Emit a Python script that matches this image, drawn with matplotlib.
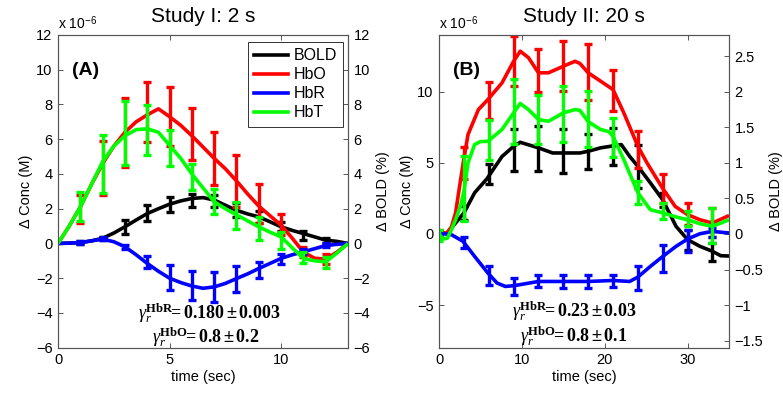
import matplotlib
matplotlib.use("Agg")
import matplotlib.pyplot as plt
from matplotlib.lines import Line2D
from matplotlib.ticker import FixedLocator, FuncFormatter

plt.rcParams["font.family"] = ["Liberation Sans", "DejaVu Sans"]
plt.rcParams["mathtext.fontset"] = "custom"
plt.rcParams["mathtext.rm"] = "Liberation Sans"
plt.rcParams["mathtext.it"] = "Liberation Serif:italic"
plt.rcParams["mathtext.bf"] = "Liberation Serif:bold"

# ---------------- Study I: 2 s (concentration in 1e-6 M, BOLD in %) ----------------
t1_curve = [0, 0.5, 1, 1.5, 2, 2.5, 3, 3.5, 4, 4.5, 5, 5.5, 6, 6.5, 7, 7.5, 8, 8.5,
            9, 9.5, 10, 10.5, 11, 11.5, 12, 12.5, 13]
hbo1_curve = [0, 1.0, 2.1, 3.4, 4.6, 5.6, 6.4, 7.0, 7.4, 7.75, 7.3, 6.8, 6.2, 5.55, 4.9, 4.3,
              3.6, 2.85, 2.15, 1.6, 1.05, 0.3, -0.5, -0.85, -0.9, -0.5, 0]
hbt1_curve = [0, 1.0, 2.1, 3.4, 4.7, 5.6, 6.2, 6.55, 6.6, 6.4, 5.65, 4.9, 4.0, 3.2, 2.4, 2.0,
              1.65, 1.3, 0.96, 0.65, 0.38, -0.25, -0.86, -1.0, -1.06, -0.55, 0]
bold1_curve = [0, 0.02, 0.05, 0.15, 0.3, 0.6, 0.96, 1.35, 1.72, 2.0, 2.26, 2.45, 2.59, 2.64,
               2.5, 2.2, 1.91, 1.7, 1.53, 1.25, 0.96, 0.75, 0.57, 0.38, 0.19, 0.12, 0]
hbr1_curve = [0, 0.02, 0.05, 0.15, 0.25, 0.1, -0.19, -0.65, -1.15, -1.6, -2.0, -2.25, -2.45,
              -2.58, -2.5, -2.3, -2.02, -1.75, -1.44, -1.15, -0.86, -0.65, -0.48, -0.3,
              -0.12, -0.05, 0]

t1_err = [1, 2, 3, 4, 5, 6, 7, 8, 9, 10, 11, 12]
hbo1_mean = [2.0, 4.35, 6.4, 7.56, 7.3, 6.3, 4.88, 3.6, 2.3, 1.1, -0.5, -0.9]
hbo1_sd = [0.8, 1.55, 2.0, 1.72, 1.7, 1.5, 1.53, 1.5, 1.1, 0.62, 0.3, 0.3]
hbt1_mean = [2.13, 4.57, 6.35, 6.53, 5.48, 3.83, 2.44, 1.62, 0.86, 0.19, -0.81, -1.1]
hbt1_sd = [0.83, 1.65, 1.85, 1.46, 1.03, 0.77, 0.72, 0.77, 0.67, 0.48, 0.33, 0.33]
bold1_mean = [0.05, 0.3, 0.97, 1.75, 2.25, 2.48, 2.45, 1.95, 1.5, 0.96, 0.47, 0.17]
bold1_sd = [0.08, 0.1, 0.4, 0.45, 0.43, 0.38, 0.35, 0.4, 0.35, 0.25, 0.25, 0.15]
hbr1_mean = [0.05, 0.28, -0.19, -1.08, -1.97, -2.42, -2.5, -2.04, -1.53, -0.9, -0.48, -0.1]
hbr1_sd = [0.08, 0.1, 0.1, 0.36, 0.72, 0.85, 0.87, 0.74, 0.48, 0.29, 0.15, 0.1]

# ---------------- Study II: 20 s ----------------
t2_hbo = [0, 1, 1.5, 2, 2.6, 3, 3.5, 4.75, 5.9, 7.6, 9, 9.8, 10.8, 12, 13.2, 15, 16.4, 17,
          18, 19.5, 21, 22.3, 24, 25.1, 27, 28.5, 30, 31.5, 33, 35]
hbo2_curve = [0, 0.1, 0.5, 1.5, 3.8, 5.3, 7.0, 8.75, 9.46, 10.63, 12.15, 12.86, 12.4, 11.34,
              11.34, 11.8, 12.15, 12.0, 11.34, 10.75, 10.16, 8.52, 6.17, 5.0, 3.2, 1.94,
              1.36, 1.0, 0.77, 1.3]
t2_hbt = [0, 0.5, 1, 1.5, 2, 2.6, 3, 3.5, 4.3, 5, 5.9, 7.6, 9, 9.8, 10.8, 12, 13.2, 15,
          16.4, 17, 18, 19.5, 20.5, 21, 22.3, 24, 25.5, 27, 28.6, 30, 31.5, 33, 35]
hbt2_curve = [0, -0.35, -0.3, 0.3, 1.0, 2.0, 3.0, 5.0, 6.3, 6.5, 6.52, 7.35, 8.52, 9.18,
              8.75, 8.05, 7.93, 8.52, 8.75, 8.7, 7.9, 7.35, 7.2, 6.87, 5.23, 2.9, 1.71,
              1.48, 1.2, 1.0, 0.72, 0.54, 1.0]
t2_bold = [0, 1, 1.5, 3, 4.3, 5.8, 7.6, 9, 9.8, 12, 13.7, 15, 17, 18, 19.5, 22, 23, 24,
           25.5, 27, 28.6, 30, 31.5, 33, 34, 35]
bold2_curve = [0, 0.02, 0.084, 0.296, 0.58, 0.78, 1.09, 1.234, 1.29, 1.212, 1.14, 1.14,
               1.14, 1.164, 1.212, 1.258, 1.092, 0.952, 0.72, 0.48, 0.108, -0.08, -0.174,
               -0.244, -0.306, -0.31]
t2_hbr = [0, 1.5, 2.9, 4.3, 5.9, 7, 8, 9, 10.4, 12, 15, 18, 21, 23, 24, 25.5, 27, 28.6,
          30, 31.5, 33, 35]
hbr2_curve = [0.05, -0.05, -0.52, -1.58, -2.75, -3.45, -3.69, -3.64, -3.5, -3.34, -3.34,
              -3.34, -3.27, -3.34, -3.03, -2.28, -1.58, -0.87, -0.35, 0.02, 0.18, 0.07]

t2_err = [0, 3, 6, 9, 12, 15, 18, 21, 24, 27, 30, 33]
hbo2_mean = [0, 5.0, 9.36, 12.15, 11.5, 11.8, 11.4, 10.1, 5.95, 3.2, 1.4, 0.8]
hbo2_sd = [0.3, 1.1, 1.3, 1.75, 1.5, 1.75, 1.95, 1.45, 1.3, 1.0, 0.75, 1.0]
hbt2_mean = [-0.1, 3.2, 6.6, 8.6, 8.05, 8.45, 8.1, 6.8, 2.9, 1.6, 1.06, 0.6]
hbt2_sd = [0.4, 2.3, 1.4, 2.3, 1.75, 1.95, 1.95, 1.35, 0.8, 0.56, 0.53, 1.23]
bold2_mean = [0, 0.3, 0.84, 1.18, 1.2, 1.17, 1.16, 1.23, 0.95, 0.48, -0.08, -0.256]
bold2_sd = [0.04, 0.1, 0.14, 0.3, 0.32, 0.31, 0.25, 0.26, 0.3, 0.1, 0.14, 0.13]
hbr2_mean = [0, -0.58, -2.9, -3.69, -3.3, -3.33, -3.33, -3.3, -3.08, -1.7, -0.5, 0.1]
hbr2_sd = [0.15, 0.4, 0.67, 0.58, 0.43, 0.45, 0.47, 0.45, 0.85, 0.95, 0.8, 0.3]

RED, GREEN, BLUE, BLACK = "#ff0000", "#00ff00", "#0000ff", "#000000"
LW = 2.6


def minus_fmt(v, pos):
    return ("%g" % v).replace("-", "\u2212")


def series(ax, t, y, te, ym, ysd, color):
    ax.plot(t, y, color=color, lw=LW, solid_capstyle="butt")
    ax.errorbar(te, ym, yerr=ysd, fmt="none", ecolor=color, elinewidth=2.4,
                capsize=2.6, capthick=2.4)


def style_axes(ax, ax2):
    # MATLAB-like: ticks inside, on all four sides, grey frame
    for a in (ax, ax2):
        for sp in a.spines.values():
            sp.set_color("#555555")
            sp.set_linewidth(0.8)
        a.tick_params(direction="in", length=3.5, width=0.7, color="#555555",
                      labelsize=10.5, pad=4)
    ax.tick_params(top=True, right=False)
    ax.yaxis.set_major_formatter(FuncFormatter(minus_fmt))
    ax2.yaxis.set_major_formatter(FuncFormatter(minus_fmt))
    ax.set_zorder(ax2.get_zorder() + 1)
    ax.patch.set_visible(False)
    ax.set_xlabel("time (sec)", fontsize=10.5, labelpad=2)
    ax.set_ylabel("\u0394 Conc (M)", fontsize=10.5, labelpad=2)
    ax2.set_ylabel("\u0394 BOLD (%)", fontsize=10.5, labelpad=4)
    ax.text(0, 1.008, r"x 10$^{-6}$", transform=ax.transAxes,
            ha="left", va="bottom", fontsize=10)


fig = plt.figure(figsize=(7.83, 3.94), dpi=100)

# ---- panel A ----
axA = fig.add_axes([0.0741, 0.1175, 0.3704, 0.7937])
axA2 = axA.twinx()
series(axA2, t1_curve, bold1_curve, t1_err, bold1_mean, bold1_sd, BLACK)
series(axA, t1_curve, hbo1_curve, t1_err, hbo1_mean, hbo1_sd, RED)
series(axA, t1_curve, hbr1_curve, t1_err, hbr1_mean, hbr1_sd, BLUE)
series(axA, t1_curve, hbt1_curve, t1_err, hbt1_mean, hbt1_sd, GREEN)
axA.set_xlim(0, 13)
axA.set_ylim(-6, 12)
axA2.set_ylim(-6, 12)
axA.xaxis.set_major_locator(FixedLocator([0, 5, 10]))
axA.yaxis.set_major_locator(FixedLocator(range(-6, 13, 2)))
axA2.yaxis.set_major_locator(FixedLocator(range(-6, 13, 2)))
style_axes(axA, axA2)
axA.set_title("Study I: 2 s", fontsize=15, pad=9)
axA.text(0.63, 9.95, "(A)", fontsize=14, fontweight="bold", ha="left", va="center")
axA.text(6.77, -4.0, r"$\gamma_r^{\mathbf{HbR}}\!\!\mathbf{=0.180}\pm\mathbf{0.003}$",
         fontsize=13, ha="center", va="center")
axA.text(6.6, -5.37, r"$\gamma_r^{\mathbf{HbO}}\!\!\mathbf{=0.8}\pm\mathbf{0.2}$",
         fontsize=13, ha="center", va="center")

handles = [Line2D([], [], color=c, lw=LW) for c in (BLACK, RED, BLUE, GREEN)]
leg = axA.legend(handles, ["BOLD", "HbO", "HbR", "HbT"], loc="upper right",
                 bbox_to_anchor=(0.983, 0.978), fontsize=11.5, fancybox=False,
                 framealpha=1, edgecolor="#333333", handlelength=2.1,
                 handletextpad=0.35, labelspacing=0.25, borderpad=0.4,
                 borderaxespad=0)
leg.get_frame().set_linewidth(0.7)

# ---- panel B ----
axB = fig.add_axes([0.5607, 0.1175, 0.3704, 0.7937])
axB2 = axB.twinx()
series(axB2, t2_bold, bold2_curve, t2_err, bold2_mean, bold2_sd, BLACK)
series(axB, t2_hbo, hbo2_curve, t2_err, hbo2_mean, hbo2_sd, RED)
series(axB, t2_hbr, hbr2_curve, t2_err, hbr2_mean, hbr2_sd, BLUE)
series(axB, t2_hbt, hbt2_curve, t2_err, hbt2_mean, hbt2_sd, GREEN)
axB.set_xlim(0, 35)
axB.set_ylim(-8, 14)
axB2.set_ylim(-1.6, 2.8)
axB.xaxis.set_major_locator(FixedLocator([0, 10, 20, 30]))
axB.yaxis.set_major_locator(FixedLocator([-5, 0, 5, 10]))
axB2.yaxis.set_major_locator(FixedLocator([-1.5, -1, -0.5, 0, 0.5, 1, 1.5, 2, 2.5]))
style_axes(axB, axB2)
axB.set_title("Study II: 20 s", fontsize=15, pad=9)
axB.text(1.7, 11.5, "(B)", fontsize=14, fontweight="bold", ha="left", va="center")
axB.text(16.3, -5.45, r"$\gamma_r^{\mathbf{HbR}}\!\!\mathbf{=0.23}\pm\mathbf{0.03}$",
         fontsize=13, ha="center", va="center")
axB.text(16.2, -7.2, r"$\gamma_r^{\mathbf{HbO}}\!\!\mathbf{=0.8}\pm\mathbf{0.1}$",
         fontsize=13, ha="center", va="center")

fig.savefig("out.png", dpi=100)
